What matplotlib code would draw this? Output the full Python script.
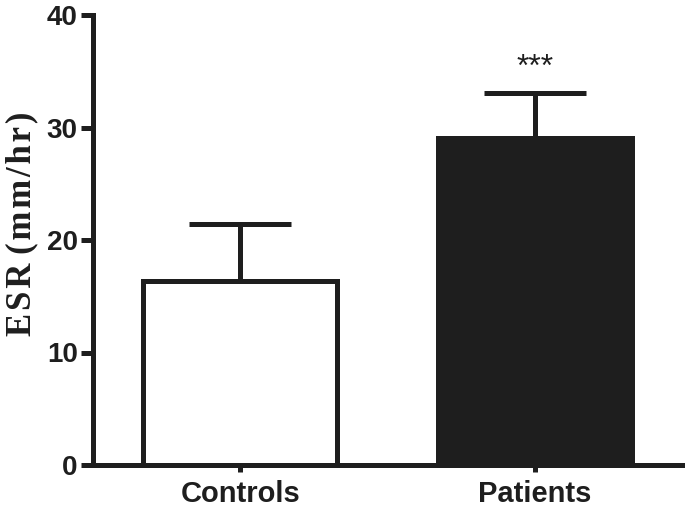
import matplotlib.pyplot as plt

# ESR values
groups = ["Controls", "Patients"]
means = [16.4, 29.1]
sem_upper = [5.0, 4.0]
fills = ["white", "#1e1e1e"]
sig_label = "***"
ylabel = "ESR (mm/hr)"

INK = "#1e1e1e"
LW = 3.6

fig = plt.figure(figsize=(6.85, 5.15), dpi=100)
ax = fig.add_axes([93 / 685, 50 / 515, 1 - 93 / 685, 450 / 515])

pos = list(range(len(groups)))
ax.bar(pos, means, width=0.66, color=fills, edgecolor=INK, linewidth=LW,
       zorder=2)
ax.errorbar(pos, means, yerr=[[0] * len(means), sem_upper], fmt="none",
            ecolor=INK, elinewidth=LW, capsize=37, capthick=LW, zorder=1)
for l in ax.lines:
    l.set_solid_capstyle("round")

ax.text(pos[1], means[1] + sem_upper[1] + 2.2, sig_label, ha="center",
        va="center", fontsize=23, color=INK, family="Liberation Sans")

ax.set_ylim(0, 40)
ax.set_xlim(-0.5, 1.51)
ax.set_yticks([0, 10, 20, 30, 40])
ax.set_xticks(pos)
ax.set_xticklabels(groups)

for side in ["top", "right"]:
    ax.spines[side].set_visible(False)
for side in ["left", "bottom"]:
    ax.spines[side].set_linewidth(LW)
    ax.spines[side].set_color(INK)
    ax.spines[side].set_capstyle("projecting")

ax.tick_params(axis="y", length=9, width=LW, color=INK, pad=2)
ax.tick_params(axis="x", length=5, width=LW, color=INK, pad=6)
for lab in ax.get_yticklabels():
    lab.set_fontfamily("Liberation Sans")
    lab.set_fontweight("bold")
    lab.set_fontsize(20)
    lab.set_color(INK)
for lab in ax.get_xticklabels():
    lab.set_fontfamily("Liberation Sans")
    lab.set_fontweight("bold")
    lab.set_fontsize(21)
    lab.set_color(INK)

# the original label is loosely letter-spaced; emulate with hair spaces
spaced = " ".join("\u200a".join(w) for w in ylabel.split(" "))
ax.set_ylabel(spaced, fontsize=25, fontweight="bold",
              family=["Liberation Serif", "DejaVu Serif"], color=INK)
ax.yaxis.set_label_coords(-0.12, 0.537)
ax.yaxis.label.set_va("center")

fig.savefig("out.png", dpi=100)
